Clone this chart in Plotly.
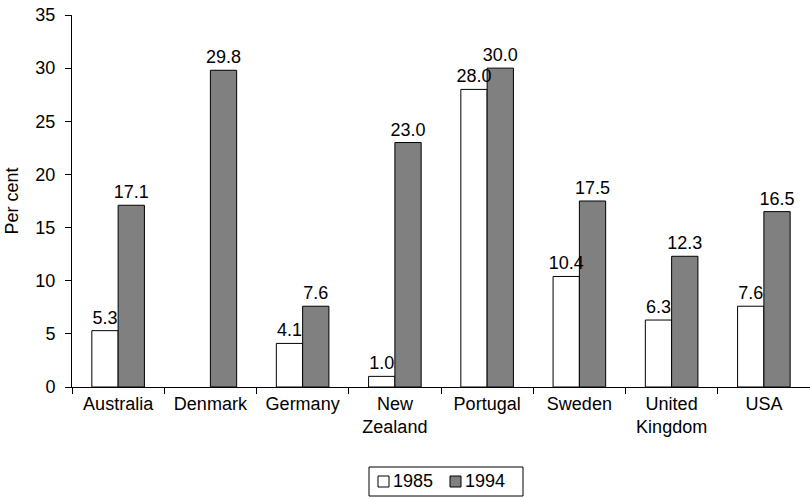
import plotly.graph_objects as go

countries = ["Australia", "Denmark", "Germany", "New<br>Zealand", "Portugal",
             "Sweden", "United<br>Kingdom", "USA"]
values_1985 = [5.3, None, 4.1, 1.0, 28.0, 10.4, 6.3, 7.6]
values_1994 = [17.1, 29.8, 7.6, 23.0, 30.0, 17.5, 12.3, 16.5]
y_ticks = [0, 5, 10, 15, 20, 25, 30, 35]

series = [("1985", values_1985, "white"), ("1994", values_1994, "#808080")]

W, H = 810, 497
M_L, M_R, M_T, M_B = 72, 0, 15, 110
FONT = "Liberation Sans, Arial, sans-serif"
FS = 18


def px_x(px):
    return (px - M_L) / (W - M_L - M_R)


def px_y(py):
    return (H - M_B - py) / (H - M_T - M_B)


fig = go.Figure()
# filled bars on the main axes
for name, vals, color in series:
    fig.add_trace(go.Bar(
        x=countries, y=vals, name=name,
        marker=dict(color=color, line=dict(color="black", width=1)),
        showlegend=False, hoverinfo="skip",
    ))
# the same bars, transparent, on overlaying axes so value labels sit on top
for name, vals, color in series:
    fig.add_trace(go.Bar(
        x=countries, y=vals, name=name, xaxis="x2", yaxis="y2",
        marker=dict(color="rgba(0,0,0,0)", line=dict(width=0)),
        text=[None if v is None else f"{v:.1f}" for v in vals],
        textposition="outside", constraintext="none",
        textfont=dict(size=FS, color="black", family=FONT),
        cliponaxis=False, showlegend=False,
    ))

# boxed legend below the plot
shapes = [dict(type="rect", xref="paper", yref="paper",
               x0=px_x(369), x1=px_x(523), y0=px_y(496), y1=px_y(467),
               line=dict(color="black", width=1), fillcolor="white")]
annotations = []
for (name, _, color), sx in zip(series, [378, 450]):
    shapes.append(dict(type="rect", xref="paper", yref="paper",
                       x0=px_x(sx), x1=px_x(sx + 11), y0=px_y(487), y1=px_y(476),
                       line=dict(color="black", width=1), fillcolor=color))
    annotations.append(dict(text=name, xref="paper", yref="paper",
                            x=px_x(sx + 13), y=px_y(481.5),
                            xanchor="left", yanchor="middle", showarrow=False,
                            font=dict(size=FS, color="black", family=FONT)))

fig.update_layout(
    width=W, height=H,
    margin=dict(l=M_L, r=M_R, t=M_T, b=M_B),
    paper_bgcolor="white", plot_bgcolor="white",
    font=dict(family=FONT, size=FS, color="black"),
    barmode="group", bargap=0.43, bargroupgap=0,
    showlegend=False,
    shapes=shapes, annotations=annotations,
    xaxis=dict(
        showline=True, linecolor="black", linewidth=1,
        ticks="outside", tickson="boundaries", ticklen=6, tickcolor="black",
        showgrid=False, tickfont=dict(size=FS),
    ),
    yaxis=dict(
        range=[0, 35], tickvals=y_ticks,
        showline=True, linecolor="black", linewidth=1,
        ticks="outside", ticklen=6, tickcolor="black",
        showgrid=False, zeroline=False, tickfont=dict(size=FS),
        ticklabelstandoff=6,
        title=dict(text="Per cent", font=dict(size=FS), standoff=12),
    ),
    xaxis2=dict(overlaying="x", matches="x", visible=False),
    yaxis2=dict(overlaying="y", range=[0, 35], visible=False),
)

fig.write_html("out.html")
